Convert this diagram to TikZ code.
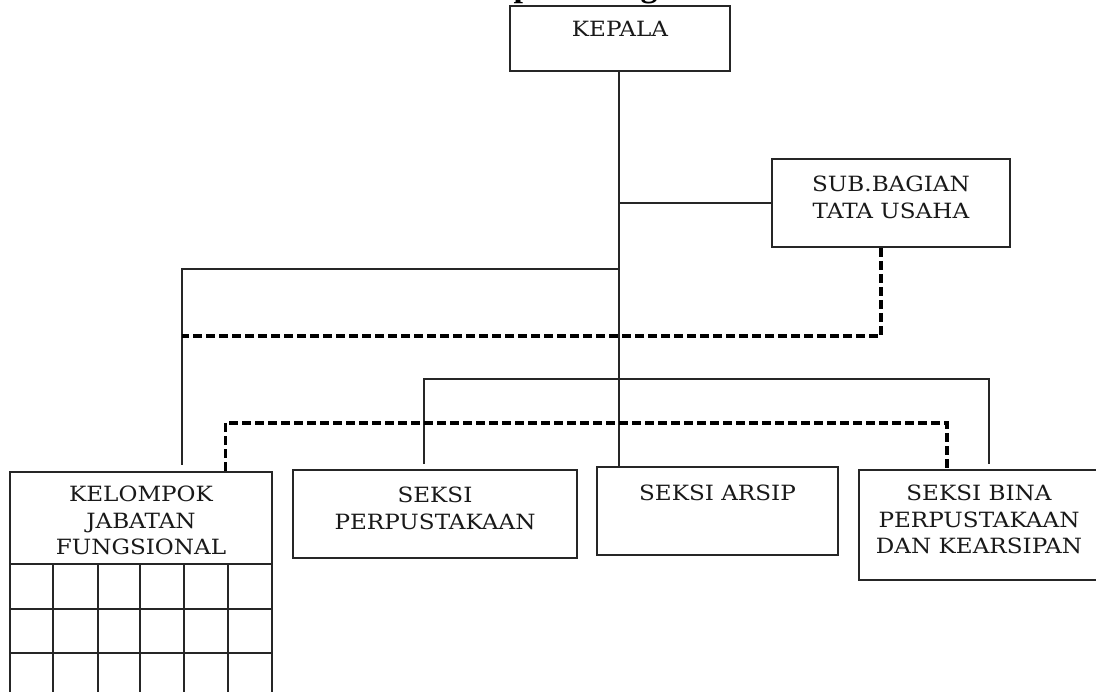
\documentclass[tikz,border=0pt]{standalone}
\usepackage{fontspec}
\setmainfont[FakeStretch=1.1]{DejaVu Serif}
\newfontfamily\titlefont{Liberation Serif}
\begin{document}
\begin{tikzpicture}[x=1pt,y=-1pt,
  box/.style={draw=black!85, line width=1.6pt, inner sep=0pt},
  lbl/.style={anchor=north, inner sep=0pt, align=center, font=\fontsize{21}{26.5}\selectfont, text=black!90},
  conn/.style={draw=black!85, line width=1.5pt},
  dconn/.style={draw=black, line width=3.4pt, dash pattern=on 9pt off 4pt},
  frag/.style={anchor=base, inner sep=0pt, font=\titlefont\bfseries\fontsize{34}{36}\selectfont}]
\useasboundingbox (0,0) rectangle (1096,692);

% cut-off title fragments
\node[frag] (tp) at (523,-3.5) {p};
\node[frag] (tg) at (649,-3.5) {g};

% boxes
\node[box, minimum width=220pt, minimum height=65pt] (kepala) at (620,38.5) {};
\node[box, minimum width=238pt, minimum height=88pt] (sub) at (891,203) {};
\node[box, minimum width=262pt, minimum height=92pt] (kel) at (141,518) {};
\node[box, minimum width=284pt, minimum height=88pt] (perp) at (435,514) {};
\node[box, minimum width=241pt, minimum height=88pt] (arsip) at (717.5,511) {};
\node[box, minimum width=240pt, minimum height=110pt] (bina) at (979,525) {};

% grid under KELOMPOK JABATAN FUNGSIONAL
\foreach \gx in {10,53,98,140,184,228,272} \draw[box] (\gx,564) -- (\gx,700);
\foreach \gy in {609,653} \draw[box] (10,\gy) -- (272,\gy);

% labels
\node[lbl] (kepalaT) at (620,21) {KEPALA};
\node[lbl] (subT) at (891,176) {SUB.BAGIAN\\TATA USAHA};
\node[lbl] (kelT) at (141,486) {KELOMPOK\\JABATAN\\FUNGSIONAL};
\node[lbl] (perpT) at (435,487) {SEKSI\\PERPUSTAKAAN};
\node[lbl] (arsipT) at (717.5,485) {SEKSI ARSIP};
\node[lbl] (binaT) at (979,485) {SEKSI BINA\\PERPUSTAKAAN\\DAN KEARSIPAN};

% junction coordinates on the main line
\coordinate (j1) at (619,269);
\coordinate (j2) at (619,379);
\coordinate (d1) at (619,336);
\coordinate (d2) at (619,423);

% solid connectors
\draw[conn] ([xshift=-1pt]kepala.south) -- ([xshift=-1pt]kepala.south |- arsip.north);
\draw[conn] ([xshift=-1pt]kepala.south |- sub.west) -- (sub.west);
\draw[conn, shorten >=6pt] (j1) -| ([xshift=173pt]kel.north west);
\draw[conn, shorten <=5pt, shorten >=5pt] ([xshift=-11pt]perp.north) |- (j2) -| ([xshift=10pt]bina.north);

% dashed connectors
\draw[dconn] ([xshift=-10pt]sub.south) |- ([xshift=173pt]kel.north west |- d1);
\draw[dconn] ([xshift=216pt]kel.north west) |- (d2) -| ([xshift=-32pt]bina.north);
\end{tikzpicture}
\end{document}
